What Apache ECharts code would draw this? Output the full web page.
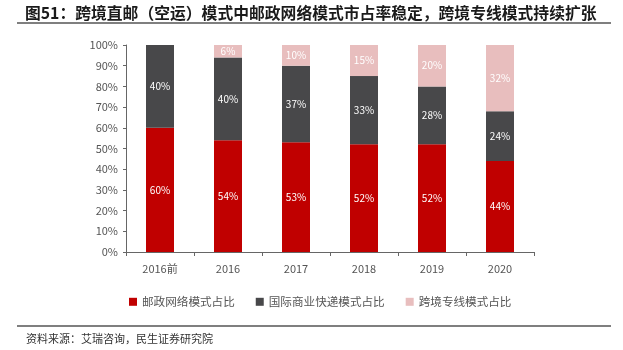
<!DOCTYPE html>
<html><head><meta charset="utf-8">
<script src="https://cdn.jsdelivr.net/npm/echarts@6/dist/echarts.min.js"></script>
<style>html,body{margin:0;padding:0;background:#fff;}#c{width:623px;height:350px;}</style>
</head><body><div id="c"></div>
<script>
var categories = ['2016前','2016','2017','2018','2019','2020'];
var postal = [60,54,53,52,52,44];
var express = [40,40,37,33,28,24];
var dedicated = [0,6,10,15,20,32];
var seriesNames = ['邮政网络模式占比','国际商业快递模式占比','跨境专线模式占比'];
var titleText = '图51：跨境直邮（空运）模式中邮政网络模式市占率稳定，跨境专线模式持续扩张';
var sourceText = '资料来源：艾瑞咨询，民生证券研究院';
var font = '"Noto Sans CJK SC", "Noto Sans", sans-serif';
var chart = echarts.init(document.getElementById('c'));
function lbl(v){ return v.value > 0 ? v.value + '%' : ''; }
chart.setOption({
  animation:false,
  textStyle:{fontFamily:font},
  title:{text:titleText,left:20,top:0,textStyle:{fontSize:15.8,fontWeight:'bold',color:'#1a1a1a',fontFamily:font}},
  graphic:[
    {type:'line',shape:{x1:17,y1:23,x2:611,y2:23},style:{stroke:'#555',lineWidth:1.5}},
    {type:'line',shape:{x1:17,y1:326,x2:611,y2:326},style:{stroke:'#555',lineWidth:1.5}},
    {type:'text',left:26,top:333,style:{text:sourceText,fontSize:11,fill:'#333',fontFamily:font}}
  ],
  legend:{top:291,left:124,itemWidth:8,itemHeight:8,itemGap:21,icon:'rect',
    textStyle:{fontSize:11.6,color:'#555',fontFamily:font},data:seriesNames},
  grid:{left:126,right:89,top:45,bottom:98,containLabel:false},
  xAxis:{type:'category',data:categories,
    axisLine:{lineStyle:{color:'#666'}},
    axisTick:{show:true,alignWithLabel:false,length:4,lineStyle:{color:'#666'}},
    axisLabel:{color:'#555',fontSize:11,margin:11}},
  yAxis:{type:'value',min:0,max:100,interval:10,
    axisLine:{show:true,lineStyle:{color:'#666'}},
    axisTick:{show:true,length:3,lineStyle:{color:'#666'}},
    splitLine:{show:false},
    axisLabel:{formatter:'{value}%',color:'#555',fontSize:11,margin:8}},
  series:[
    {name:seriesNames[0],type:'bar',stack:'s',data:postal,barWidth:28,
      itemStyle:{color:'#C00000'},label:{show:true,color:'#fff',fontSize:10,formatter:lbl}},
    {name:seriesNames[1],type:'bar',stack:'s',data:express,barWidth:28,
      itemStyle:{color:'#48484A'},label:{show:true,color:'#fff',fontSize:10,formatter:lbl}},
    {name:seriesNames[2],type:'bar',stack:'s',data:dedicated,barWidth:28,
      itemStyle:{color:'#E8BEBE'},label:{show:true,color:'#fff',fontSize:10,formatter:lbl}}
  ]
});
</script></body></html>
